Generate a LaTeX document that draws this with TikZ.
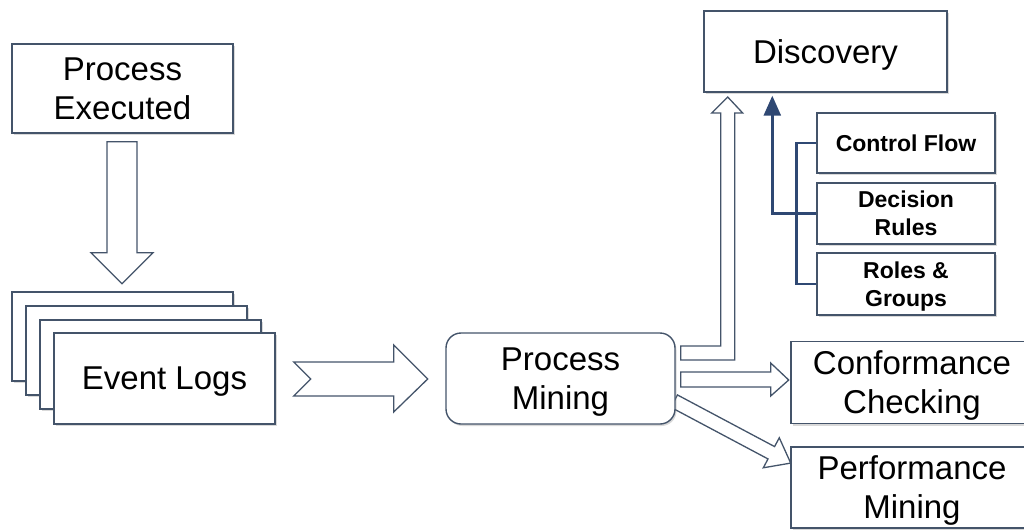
\documentclass[tikz,border=0pt]{standalone}
\usepackage{fontspec}
\setmainfont{Liberation Sans}
\usetikzlibrary{calc,shadows,arrows.meta,backgrounds}
\definecolor{bordercol}{RGB}{68,84,106}
\definecolor{navy}{RGB}{47,72,115}
\tikzset{
  box/.style={draw=bordercol, line width=1.4pt, fill=white, inner sep=0pt,
    align=center, font=\fontsize{33}{39}\selectfont, text depth=0pt,
    drop shadow={shadow xshift=1.5pt, shadow yshift=-2pt, opacity=0.3}},
  smallbox/.style={box, font=\bfseries\fontsize{23}{28}\selectfont},
  blockarrow/.style={draw=bordercol, line width=1.3pt, fill=white, line join=miter},
  navyline/.style={draw=navy, line width=2.6pt}
}
\begin{document}
\begin{tikzpicture}[x=1pt,y=-1pt]
\useasboundingbox (0,0) rectangle (1024,530);
\clip (0,0) rectangle (1024,530);

\node[box, minimum width=221pt, minimum height=89pt] (pe) at (122.5,88.5) {Process\\Executed};

\node[box, minimum width=221pt, minimum height=89pt] (l1) at (122.5,336.5) {};
\node[box, minimum width=221pt, minimum height=89pt] (l2) at (136.5,350.5) {};
\node[box, minimum width=221pt, minimum height=89pt] (l3) at (150.5,364.5) {};
\node[box, minimum width=221pt, minimum height=91pt] (el) at (164.5,378.5) {Event Logs};

\node[box, rounded corners=15pt, minimum width=229pt, minimum height=91pt] (pm) at (560.5,378.5) {Process\\Mining};

\node[box, minimum width=243pt, minimum height=81pt] (disc) at (825.5,51.5) {Discovery};

\node[smallbox, minimum width=178pt, minimum height=60pt] (cf) at (906,143) {Control Flow};
\node[smallbox, minimum width=178pt, minimum height=61pt] (dr) at (906,213.5) {Decision\\Rules};
\node[smallbox, minimum width=178pt, minimum height=62pt] (rg) at (906,284) {Roles \&\\Groups};

\node[box, minimum width=242pt, minimum height=82pt] (cc) at (912,382.5) {Conformance\\Checking};
\node[box, minimum width=242pt, minimum height=81pt] (pf) at (912,487.5) {Performance\\Mining};

% bracket and arrow to Discovery
\draw[navyline] (cf.west) -- ++(-20,0) |- (rg.west);
\draw[navyline, -{Triangle[length=20pt,width=17pt]}, shorten >=3pt]
  (dr.west) -| ($(disc.south west)+(69,0)$);

\begin{scope}[on background layer]
% down arrow
\draw[blockarrow] ($(pe.south)+(-15.5,8)$) -- ++(30,0) -- ++(0,111) -- ++(16,0)
  -- ++(-31,31) -- ++(-31,-31) -- ++(16,0) -- cycle;
% chevron arrow
\draw[blockarrow] ($(el.east)+(18,-16.5)$) -- ++(100,0) -- ++(0,-17) -- ++(34,34)
  -- ++(-34,33) -- ++(0,-16) -- ++(-100,0) -- ++(17,-17) -- cycle;
% elbow arrow to discovery
\draw[blockarrow] ($(pm.east)+(5,-32.5)$) -- ++(40,0) -- ++(0,-233) -- ++(-9,0)
  -- ++(16,-16) -- ++(15,16) -- ++(-8,0) -- ++(0,247) -- ++(-54,0) -- cycle;
% arrow to conformance
\draw[blockarrow] ($(pm.east)+(5,-6.5)$) -- ++(90,0) -- ++(0,-9) -- ++(18,17)
  -- ++(-18,16) -- ++(0,-9) -- ++(-90,0) -- cycle;
% diagonal arrow to performance
\begin{scope}[shift={($(pm.east)+(2,24.5)$)}, rotate=-28]
\draw[blockarrow] (-4,-7) -- (106,-7) -- (106,-17) -- (128,0) -- (106,17) -- (106,7) -- (-4,7) -- cycle;
\end{scope}
\end{scope}
\end{tikzpicture}
\end{document}
